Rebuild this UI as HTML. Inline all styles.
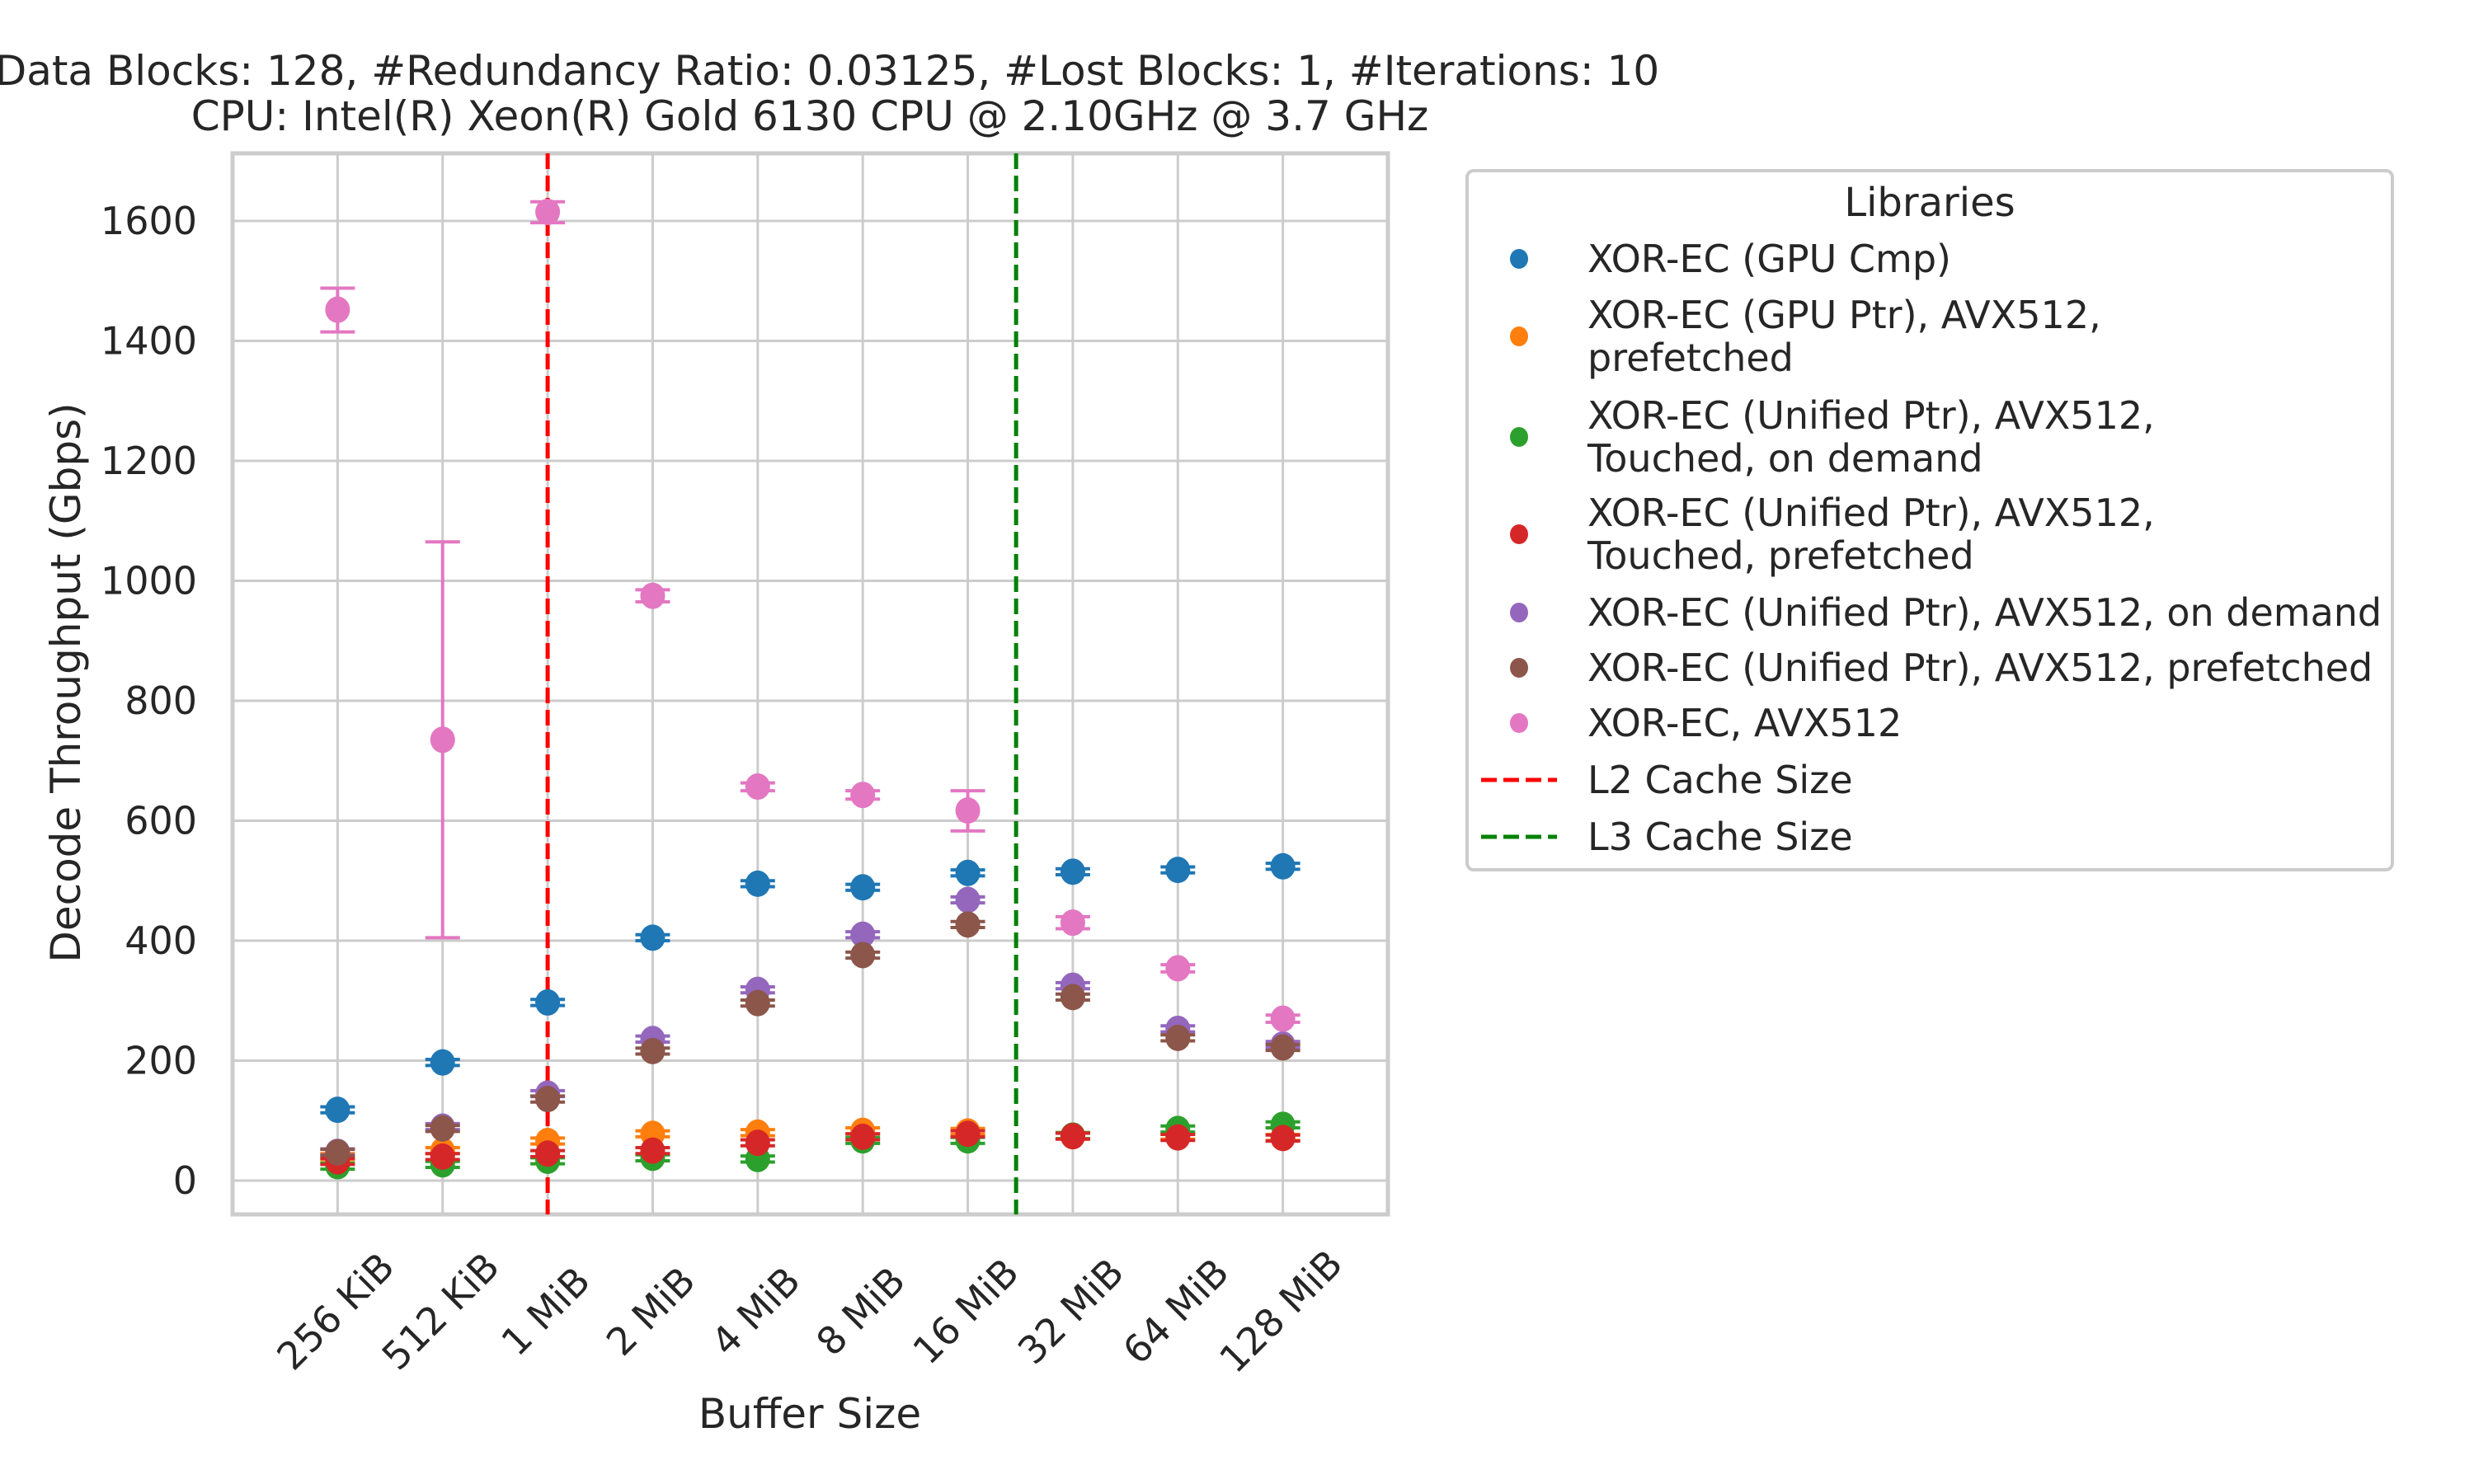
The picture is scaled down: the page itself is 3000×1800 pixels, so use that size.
<!DOCTYPE html>
<html><head><meta charset="utf-8"><style>
html,body{margin:0;padding:0;background:#fff;}
svg{display:block;font-family:"DejaVu Sans","Liberation Sans",sans-serif;}
</style></head><body>
<svg id="chart" width="3000" height="1800" viewBox="0 0 3000 1800">
<g id="grid"></g><g id="marks"></g><g id="ticks"></g>
<text x="982" y="103" font-size="50" fill="#262626" text-anchor="middle">#Data Blocks: 128, #Redundancy Ratio: 0.03125, #Lost Blocks: 1, #Iterations: 10</text>
<text x="982" y="158" font-size="50" fill="#262626" text-anchor="middle">CPU: Intel(R) Xeon(R) Gold 6130 CPU @ 2.10GHz @ 3.7 GHz</text>
<text x="982" y="1732" font-size="50" fill="#262626" text-anchor="middle">Buffer Size</text>
<text transform="translate(97,828) rotate(-90)" font-size="50" fill="#262626" text-anchor="middle">Decode Throughput (Gbps)</text>
<g id="legend"></g>
</svg>
<script>
const categories=["256 KiB","512 KiB","1 MiB","2 MiB","4 MiB","8 MiB","16 MiB","32 MiB","64 MiB","128 MiB"];
const yTicks=[0,200,400,600,800,1000,1200,1400,1600];
const seriesNames=["XOR-EC (GPU Cmp)","XOR-EC (GPU Ptr), AVX512, prefetched","XOR-EC (Unified Ptr), AVX512, Touched, on demand","XOR-EC (Unified Ptr), AVX512, Touched, prefetched","XOR-EC (Unified Ptr), AVX512, on demand","XOR-EC (Unified Ptr), AVX512, prefetched","XOR-EC, AVX512"];
const seriesColors=["#1f77b4","#ff7f0e","#2ca02c","#d62728","#9467bd","#8c564b","#e377c2"];
const blueVals=[118,197,297,405,495,489,513,515,518,524];
const orangeVals=[40,50,66,78,80,83,82,75,74,72];
const greenVals=[24,27,33,38,36,67,67,75,86,93];
const redVals=[32,40,45,50,63,73,78,74,72,71];
const purpleVals=[48,90,145,236,318,410,468,325,253,227];
const brownVals=[47,87,136,216,296,376,427,306,238,222];
const pinkVals=[1452,735,1615,975,657,643,617,430,354,270];
const pinkLo=[1415,405,1597,965,650,636,583,420,348,264];
const pinkHi=[1488,1065,1632,985,663,650,650,440,360,276];
const errHalf=[5,5,5,5,5,5,5,5,5,5];
const l2Pos=2, l3Pos=6.46;
const allVals=[blueVals,orangeVals,greenVals,redVals,purpleVals,brownVals,pinkVals];

const NS="http://www.w3.org/2000/svg";
const L=282,R=1683,T=186,B=1473;
const X=i=>L+(i+1)*(R-L)/11;
const Y=v=>1432-v*(1432-268)/1600;
function mk(tag,attrs,parent){const e=document.createElementNS(NS,tag);for(const k in attrs)e.setAttribute(k,attrs[k]);parent.appendChild(e);return e;}
const grid=document.getElementById('grid'),marks=document.getElementById('marks'),ticks=document.getElementById('ticks'),leg=document.getElementById('legend');
yTicks.forEach(v=>{
 const l=mk('line',{x1:L,x2:R,y1:Y(v),y2:Y(v),stroke:'#cccccc','stroke-width':3},grid);
 
 
 const t=mk('text',{x:239,y:Y(v)+16,'font-size':46,fill:'#262626','text-anchor':'end'},ticks);
 t.textContent=v;
 
 
});
categories.forEach((c,i)=>{
 const l=mk('line',{x1:X(i),x2:X(i),y1:T,y2:B,stroke:'#cccccc','stroke-width':3},grid);
 
 
 const t=mk('text',{transform:`translate(${X(i)},${1593}) rotate(-45)`,'font-size':46,fill:'#262626','text-anchor':'middle','dominant-baseline':'middle'},ticks);
 t.textContent=c;
 
 
});
const frame=mk('rect',{x:L,y:T,width:R-L,height:B-T,fill:'none',stroke:'#cccccc','stroke-width':5},grid);


const l2=mk('line',{x1:X(l2Pos),x2:X(l2Pos),y1:T,y2:B,stroke:'#ff0000','stroke-width':5,'stroke-dasharray':'19 8'},marks);


const l3=mk('line',{x1:X(l3Pos),x2:X(l3Pos),y1:T,y2:B,stroke:'#008000','stroke-width':5,'stroke-dasharray':'19 8'},marks);


function errbar(x,lo,hi,col){
 const g=mk('g',{},marks);
 
 
 mk('line',{x1:x,x2:x,y1:Y(lo),y2:Y(hi),stroke:col,'stroke-width':4},g);
 mk('line',{x1:x-21,x2:x+21,y1:Y(lo),y2:Y(lo),stroke:col,'stroke-width':4},g);
 mk('line',{x1:x-21,x2:x+21,y1:Y(hi),y2:Y(hi),stroke:col,'stroke-width':4},g);
}
allVals.forEach((vals,s)=>{
 vals.forEach((v,i)=>{
  const lo=s===6?pinkLo[i]:v-errHalf[i], hi=s===6?pinkHi[i]:v+errHalf[i];
  errbar(X(i),lo,hi,seriesColors[s]);
  const c=mk('ellipse',{cx:X(i),cy:Y(v),rx:15,ry:16,fill:seriesColors[s]},marks);
  
  
 });
});
const box=mk('rect',{x:1779,y:207,width:1122,height:848,rx:8,fill:'#fff',stroke:'#cccccc','stroke-width':4},leg);


const lt=mk('text',{x:2340,y:262,'font-size':48,fill:'#262626','text-anchor':'middle'},leg);
lt.textContent='Libraries';


const rows=[[["XOR-EC (GPU Cmp)"],314],[["XOR-EC (GPU Ptr), AVX512,","prefetched"],408],[["XOR-EC (Unified Ptr), AVX512,","Touched, on demand"],530],[["XOR-EC (Unified Ptr), AVX512,","Touched, prefetched"],648],[["XOR-EC (Unified Ptr), AVX512, on demand"],743],[["XOR-EC (Unified Ptr), AVX512, prefetched"],810],[["XOR-EC, AVX512"],877]];
rows.forEach((r,s)=>{
 const g=mk('g',{},leg);
 
 
 mk('ellipse',{cx:1842,cy:r[1],rx:11,ry:12,fill:seriesColors[s]},g);
 r[0].forEach((ln,k)=>{
  const t=mk('text',{x:1925,y:r[1]+16+(r[0].length===2?(k===0?-26:26):0),'font-size':46,fill:'#262626'},g);
  t.textContent=ln;
 });
});
[["L2 Cache Size","#ff0000",946],["L3 Cache Size","#008000",1015]].forEach(r=>{
 const g=mk('g',{},leg);
 
 
 mk('line',{x1:1796,x2:1888,y1:r[2],y2:r[2],stroke:r[1],'stroke-width':5,'stroke-dasharray':'19 8'},g);
 const t=mk('text',{x:1925,y:r[2]+16,'font-size':46,fill:'#262626'},g);
 t.textContent=r[0];
});
</script>
</body></html>
